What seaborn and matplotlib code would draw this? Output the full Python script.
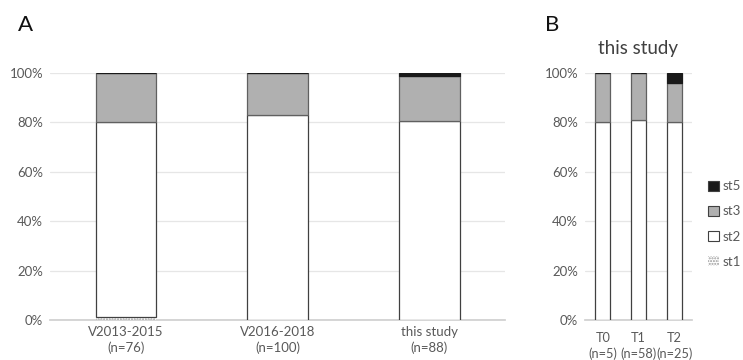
import matplotlib
matplotlib.use("Agg")
import matplotlib.pyplot as plt
import seaborn as sns
import pandas as pd
import numpy as np
from matplotlib.patches import Patch

sns.set_theme(style="white")
plt.rcParams['font.family'] = ['Lato', 'DejaVu Sans']
plt.rcParams['hatch.color'] = '#999999'
plt.rcParams['hatch.linewidth'] = 1.0

# Panel A data (percent)
groups_a = ["V2013-2015\n(n=76)", "V2016-2018\n(n=100)", "this study\n(n=88)"]
st1_a = [1.3, 0.0, 0.0]
st2_a = [78.9, 83.0, 80.7]
st3_a = [19.8, 17.0, 18.2]
st5_a = [0.0, 0.0, 1.1]

# Panel B data (percent)
groups_b = ["T0\n(n=5)", "T1\n(n=58)", "T2\n(n=25)"]
st1_b = [0.0, 0.0, 0.0]
st2_b = [80.0, 81.0, 80.0]
st3_b = [20.0, 19.0, 16.0]
st5_b = [0.0, 0.0, 4.0]

series_names = ["st1", "st2", "st3", "st5"]
face = {"st1": "white", "st2": "white", "st3": "#b0b0b0", "st5": "#1a1a1a"}
hatch = {"st1": "......", "st2": None, "st3": None, "st5": None}
edge = {"st1": "#999999", "st2": "#404040", "st3": "#606060", "st5": "#1a1a1a"}

fig = plt.figure(figsize=(7.43, 3.6), dpi=100)
axA = fig.add_axes([50/743, 40/360, 455/743, 247/360])
axB = fig.add_axes([585/743, 40/360, 107/743, 247/360])


def draw(ax, groups, s1, s2, s3, s5, width):
    df = pd.DataFrame({"group": groups, "st1": s1, "st2": s2, "st3": s3, "st5": s5})
    bottom = np.zeros(len(groups))
    for name in series_names:
        vals = df[name].values
        sns.barplot(x=df["group"], y=vals, ax=ax, color=face[name], bottom=bottom,
                    width=width, edgecolor=edge[name],
                    linewidth=(0.0 if name == "st1" else 0.9),
                    hatch=hatch[name], saturation=1, zorder=3)
        bottom = bottom + vals
    ax.set_ylim(0, 100)
    ax.set_yticks(range(0, 101, 20))
    ax.set_yticklabels([f"{v}%" for v in range(0, 101, 20)])
    ax.yaxis.grid(True, color="#e6e6e6", linewidth=0.9, zorder=0)
    ax.set_axisbelow(True)
    for s in ["top", "right", "left"]:
        ax.spines[s].set_visible(False)
    ax.spines["bottom"].set_color("#d0d0d0")
    ax.tick_params(axis="both", colors="#595959", labelsize=9.5, length=0, pad=5)
    ax.set_xlabel("")
    ax.set_ylabel("")


draw(axA, groups_a, st1_a, st2_a, st3_a, st5_a, 0.4)
draw(axB, groups_b, st1_b, st2_b, st3_b, st5_b, 0.42)
axA.set_xlim(-0.5, 2.5)
axB.set_xlim(-0.5, 2.5)
axA.tick_params(axis="x", pad=4)
axB.tick_params(axis="x", pad=9, labelsize=9.2)
for lab in axA.get_xticklabels():
    lab.set_linespacing(1.35)
for lab in axB.get_xticklabels():
    lab.set_linespacing(1.25)

axB.set_title("this study", fontsize=13.5, color="#404040", pad=14)

fig.text(18/743, 1 - 25/360, "A", fontsize=16, va="center", ha="left", color="#111111")
fig.text(545/743, 1 - 25/360, "B", fontsize=16, va="center", ha="left", color="#111111")

handles = [Patch(facecolor=face[n], edgecolor=("#999999" if n == "st1" else "#404040"),
                 hatch=hatch[n], linewidth=(0.0 if n == "st1" else 0.8), label=n)
           for n in ["st5", "st3", "st2", "st1"]]
leg = fig.legend(handles=handles, loc="center left", bbox_to_anchor=(703/743, 1 - 224/360),
                 frameon=False, fontsize=9.5, handlelength=0.8, handleheight=0.8,
                 handletextpad=0.3, labelspacing=1.0, borderaxespad=0)
for t in leg.get_texts():
    t.set_color("#595959")

fig.savefig("out.png", dpi=100)
